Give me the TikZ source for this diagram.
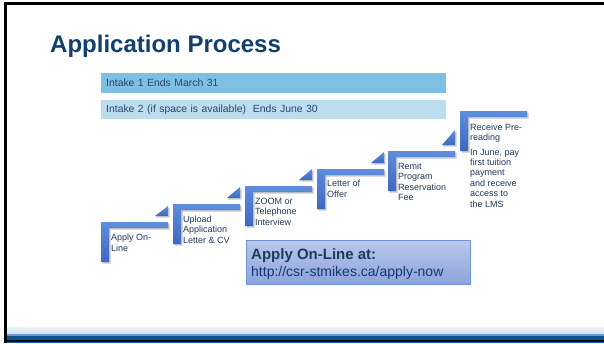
\documentclass[tikz,border=0pt]{standalone}
\usepackage{fontspec}
\setmainfont{Liberation Sans}
\setsansfont{Liberation Sans}
\definecolor{titleblue}{HTML}{123F6E}
\definecolor{barone}{HTML}{7FBFE2}
\definecolor{bartwo}{HTML}{BCDDF0}
\definecolor{bartext}{HTML}{22486B}
\definecolor{steptop}{HTML}{5F8EDC}
\definecolor{stepbot}{HTML}{3D68C0}
\definecolor{steptext}{HTML}{1F3A5C}
\definecolor{boxtop}{HTML}{B9C7EA}
\definecolor{boxbot}{HTML}{8CA3DA}
\definecolor{boxline}{HTML}{6E93D8}
\definecolor{boxtext}{HTML}{173F5A}
\definecolor{footlight}{HTML}{EAF3FA}
\definecolor{footlight2}{HTML}{CFE2F3}
\definecolor{footmid}{HTML}{6A9BD0}
\definecolor{footdark}{HTML}{10528F}
\definecolor{footblue}{HTML}{1565B0}
\newcommand{\stepshape}[2]{%
  \fill[black,opacity=.22] (#1+1.5,#2+1.5) -- ++(67,0) -- ++(0,6) -- ++(-59,0) -- ++(0,34) -- ++(-8,0) -- cycle;
  \shade[top color=steptop,bottom color=stepbot] (#1,#2) -- ++(67,0) -- ++(0,6) -- ++(-59,0) -- ++(0,34) -- ++(-8,0) -- cycle;
}
\newcommand{\steptri}[3]{%
  \fill[black,opacity=.2] (#1+54.5,#2-4.5) -- (#1+68.5,#2-4.5) -- (#1+68.5,#2-#3+1.5) -- cycle;
  \shade[top color=steptop,bottom color=stepbot] (#1+54,#2-6) -- (#1+67,#2-6) -- (#1+67,#2-#3) -- cycle;
}
\tikzset{
  steptxt/.style={anchor=north west,inner sep=0pt,align=left,text=steptext,
    font=\fontsize{9}{10.4}\selectfont},
  barnode/.style={anchor=north west,minimum width=345pt,minimum height=20pt,
    text width=335pt,inner xsep=5pt,inner ysep=0pt,align=left,text=bartext,
    font=\fontsize{10.4}{12}\selectfont},
}
\begin{document}
\begin{tikzpicture}[x=1pt,y=-1pt]
\useasboundingbox (0,0) rectangle (604,343);
\fill[white] (0,0) rectangle (604,343);
% frame
\fill[black] (3.5,1.5) rectangle (604,5);
\fill[black] (3.5,1.5) rectangle (7,343);
% footer band
\shade[top color=footlight,bottom color=footlight2] (7,327) rectangle (604,334);
\fill[footmid] (7,334) rectangle (604,336);
\fill[footdark] (7,336) rectangle (604,339.5);
\fill[black!85!footdark] (7,339.5) rectangle (604,341.5);
\fill[footblue] (7,341.5) rectangle (604,343);
% title
\node[anchor=base west,inner sep=0pt,text=titleblue,font=\fontsize{24}{28}\selectfont\bfseries] (title) at (50,52) {Application Process};
% bars
\node[barnode,fill=barone] (bar1) at (101,72.5) {Intake 1 Ends March 31};
\node[barnode,fill=bartwo,minimum height=19pt] (bar2) at (101,100) {Intake 2 (if space is available)\ \ Ends June 30};
% steps
\stepshape{101}{222}
\steptri{101}{222}{16}
\stepshape{173}{204}
\steptri{173}{204}{17}
\stepshape{245}{186}
\steptri{245}{186}{17}
\stepshape{317}{169}
\steptri{317}{169}{17}
\stepshape{388}{151}
\steptri{388}{151}{21}
\stepshape{460}{111}
\node[steptxt] (s1) at (111,234) {Apply On-\\Line};
\node[steptxt] (s2) at (183,215.5) {Upload\\Application\\Letter \& CV};
\node[steptxt] (s3) at (255,198) {ZOOM or\\Telephone\\Interview};
\node[steptxt] (s4) at (327,180) {Letter of\\Offer};
\node[steptxt] (s5) at (398,162.5) {Remit\\Program\\Reservation\\Fee};
\node[steptxt] (s6) at (470,123.5) {Receive Pre-\\reading\\[4pt]In June, pay\\first tuition\\payment\\and receive\\access to\\the LMS};
% apply box
\node[anchor=north west,minimum width=224pt,minimum height=44pt,inner sep=0pt,
  top color=boxtop,bottom color=boxbot,draw=boxline,line width=0.8pt] (applybox) at (246,240) {};
\node[anchor=base west,inner sep=0pt,text=boxtext,font=\fontsize{15}{18}\selectfont\bfseries] (applyhead) at (251,259) {Apply On-Line at:};
\node[anchor=base west,inner sep=0pt,text=boxtext!85!blue,font=\fontsize{14}{16}\selectfont] (applyurl) at (251,276.5) {http://csr-stmikes.ca/apply-now};
\end{tikzpicture}
\end{document}
